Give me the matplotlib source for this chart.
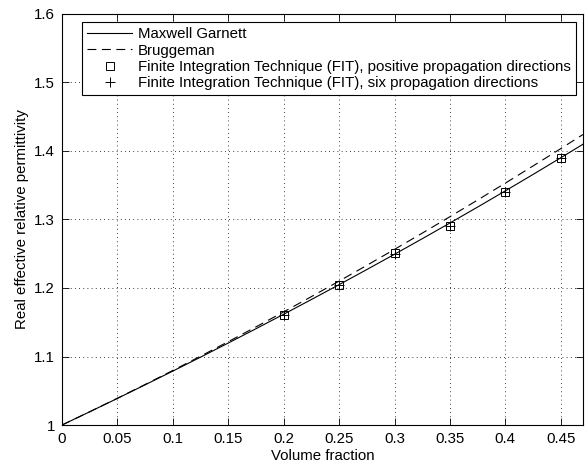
import matplotlib
matplotlib.use('Agg')
import matplotlib.pyplot as plt
from matplotlib.ticker import FuncFormatter

# --- data ---
frac = [0, 0.025, 0.05, 0.075, 0.1, 0.125, 0.15, 0.175, 0.2, 0.225, 0.25,
        0.275, 0.3, 0.325, 0.35, 0.375, 0.4, 0.425, 0.45, 0.47]
maxwell_garnett = [1.0, 1.0193, 1.03885, 1.05866, 1.07873, 1.09905, 1.11965,
                   1.14053, 1.16168, 1.18316, 1.20489, 1.22691, 1.24925,
                   1.27191, 1.29487, 1.31817, 1.34179, 1.36576, 1.39008, 1.4098]
bruggeman = [1.0, 1.01936, 1.03908, 1.05917, 1.07964, 1.10047, 1.12166,
             1.14322, 1.16514, 1.18742, 1.21006, 1.23304, 1.25638, 1.28006,
             1.30408, 1.32843, 1.35312, 1.37813, 1.40346, 1.424]

fit_frac = [0.2, 0.25, 0.3, 0.35, 0.4, 0.45]
fit_positive = [1.160, 1.204, 1.251, 1.290, 1.340, 1.390]
fit_six = [1.160, 1.205, 1.250, 1.290, 1.340, 1.390]

xticks = [0, 0.05, 0.1, 0.15, 0.2, 0.25, 0.3, 0.35, 0.4, 0.45]
yticks = [1.0, 1.1, 1.2, 1.3, 1.4, 1.5, 1.6]

plt.rcParams['font.family'] = ['Liberation Sans', 'DejaVu Sans']
plt.rcParams['font.size'] = 10.8

fig = plt.figure(figsize=(5.86, 4.65), dpi=100)
ax = fig.add_axes([0.1058, 0.086, 0.889, 0.884])

ax.plot(frac, maxwell_garnett, color='black', lw=0.8, label='Maxwell Garnett')
ax.plot(frac, bruggeman, color='black', lw=0.8, ls=(0, (8, 5)), label='Bruggeman')
ax.plot(fit_frac, fit_positive, ls='none', marker='s', ms=6, mfc='none',
        mec='black', mew=0.7,
        label='Finite Integration Technique (FIT), positive propagation directions')
ax.plot(fit_frac, fit_six, ls='none', marker='+', ms=7, color='black', mew=0.7,
        label='Finite Integration Technique (FIT), six propagation directions')

ax.set_xlim(0, 0.47)
ax.set_ylim(1.0, 1.6)
ax.set_xticks(xticks)
ax.set_yticks(yticks)
ax.xaxis.set_major_formatter(FuncFormatter(lambda v, p: '%g' % round(v, 3)))
ax.yaxis.set_major_formatter(FuncFormatter(lambda v, p: '%g' % round(v, 3)))
ax.tick_params(direction='in', top=True, right=True, length=5, width=0.6, pad=5)
ax.grid(True, ls=(0, (1, 4)), color='black', lw=0.6)
for s in ax.spines.values():
    s.set_linewidth(0.8)

ax.set_xlabel('Volume fraction', labelpad=2)
ax.set_ylabel('Real effective relative permittivity', labelpad=4)

leg = ax.legend(loc='upper left', bbox_to_anchor=(0.038, 0.98), fancybox=False,
                edgecolor='black', framealpha=1, handlelength=3.0,
                borderpad=0.35, labelspacing=0.15, handletextpad=0.4,
                borderaxespad=0)
leg.get_frame().set_linewidth(0.8)

fig.savefig('out.png', dpi=100)
